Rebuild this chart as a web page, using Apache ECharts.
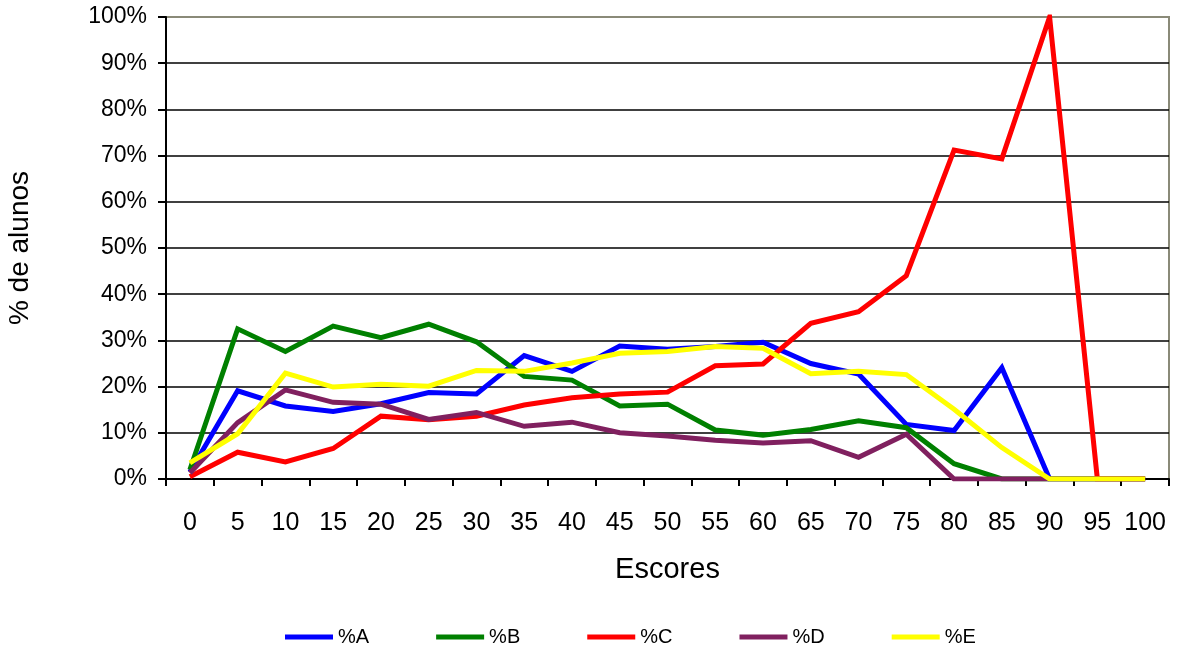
<!DOCTYPE html>
<html>
<head>
<meta charset="utf-8">
<script src="https://cdn.jsdelivr.net/npm/echarts@6/dist/echarts.min.js"></script>
<style>html,body{margin:0;padding:0;background:#fff}#c{width:1181px;height:653px}</style>
</head>
<body>
<div id="c"></div>
<script>
const categories = ['0','5','10','15','20','25','30','35','40','45','50','55','60','65','70','75','80','85','90','95','100'];
const seriesNames = ['%A','%B','%C','%D','%E'];
const seriesA = [1.5, 19.1, 15.8, 14.6, 16.3, 18.7, 18.4, 26.7, 23.3, 28.8, 28.1, 28.7, 29.6, 25.0, 22.7, 11.8, 10.5, 24.1, 0, 0, 0];
const seriesB = [2.0, 32.5, 27.6, 33.1, 30.6, 33.5, 29.7, 22.2, 21.4, 15.8, 16.2, 10.6, 9.5, 10.7, 12.6, 11.1, 3.3, 0, 0, 0, 0];
const seriesC = [0.5, 5.8, 3.7, 6.6, 13.6, 12.8, 13.6, 16.0, 17.6, 18.4, 18.8, 24.5, 24.9, 33.7, 36.2, 44.0, 71.2, 69.3, 100, 0, 0];
const seriesD = [1.3, 12.2, 19.3, 16.6, 16.2, 12.9, 14.4, 11.4, 12.3, 10.0, 9.3, 8.4, 7.8, 8.3, 4.7, 9.7, 0, 0, 0, 0, 0];
const seriesE = [3.5, 9.8, 22.9, 19.9, 20.5, 20.1, 23.5, 23.3, 25.1, 27.2, 27.6, 28.7, 28.3, 22.8, 23.3, 22.6, 15.1, 6.8, 0, 0, 0];
const colors = ['#0000FF', '#008000', '#FF0000', '#80205F', '#FFFF00'];
const allData = [seriesA, seriesB, seriesC, seriesD, seriesE];

const FONT = 'Arial, "Liberation Sans", sans-serif';
const chart = echarts.init(document.getElementById('c'), null, {renderer: 'canvas'});
chart.setOption({
  animation: false,
  backgroundColor: '#ffffff',
  color: colors,
  grid: {
    left: 166, right: 12, top: 17, bottom: 174,
    outerBoundsMode: 'none', containLabel: false,
    show: true, borderColor: '#8a8a78', borderWidth: 2, backgroundColor: 'transparent'
  },
  legend: {
    data: seriesNames,
    left: 280, top: 622,
    icon: 'rect', itemWidth: 48, itemHeight: 5, itemGap: 67,
    textStyle: {fontFamily: FONT, fontSize: 20, color: '#000'}
  },
  xAxis: {
    type: 'category',
    data: categories,
    boundaryGap: true,
    name: 'Escores',
    nameLocation: 'middle',
    nameGap: 76,
    nameTextStyle: {fontFamily: FONT, fontSize: 29, color: '#000'},
    axisLine: {show: true, lineStyle: {color: '#000', width: 2}},
    axisTick: {show: true, alignWithLabel: false, length: 7, lineStyle: {color: '#000', width: 2}},
    axisLabel: {fontFamily: FONT, fontSize: 25, color: '#000', margin: 32, interval: 0},
    splitLine: {show: false}
  },
  yAxis: {
    type: 'value',
    min: 0, max: 100, interval: 10,
    name: '% de alunos',
    nameLocation: 'middle',
    nameGap: 132,
    nameRotate: 90,
    nameTextStyle: {fontFamily: FONT, fontSize: 28, color: '#000'},
    axisLine: {show: true, lineStyle: {color: '#000', width: 2}},
    axisTick: {show: true, length: 8, lineStyle: {color: '#000', width: 2}},
    axisLabel: {fontFamily: FONT, fontSize: 23, color: '#000', margin: 19, formatter: '{value}%'},
    splitLine: {show: true, showMaxLine: false, lineStyle: {color: '#000', width: 1.5}}
  },
  series: seriesNames.map((n, i) => ({
    name: n,
    type: 'line',
    data: allData[i],
    symbol: 'none',
    lineStyle: {width: 5, color: colors[i], join: 'miter'},
    itemStyle: {color: colors[i]}
  }))
});
</script>
</body>
</html>
